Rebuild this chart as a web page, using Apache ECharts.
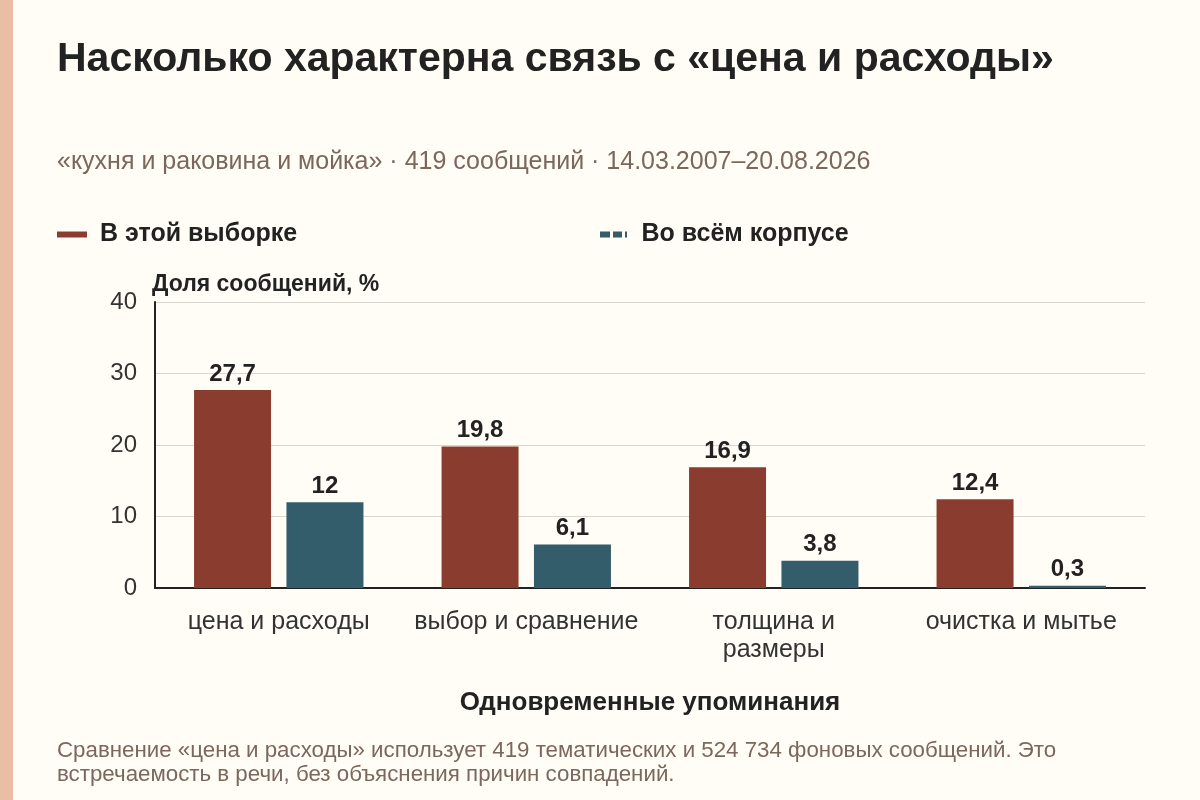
<!DOCTYPE html>
<html>
<head>
<meta charset="utf-8">
<script src="https://cdn.jsdelivr.net/npm/echarts@6/dist/echarts.min.js"></script>
<style>
  html, body { margin: 0; padding: 0; background: #fffdf6; }
  #main { width: 1200px; height: 800px; }
</style>
</head>
<body>
<div id="main"></div>
<script>
  // данные графика
  var categories = ['цена и расходы', 'выбор и сравнение', 'толщина и\nразмеры', 'очистка и мытье'];
  var sampleShare = [27.7, 19.8, 16.9, 12.4];
  var corpusShare = [12, 6.1, 3.8, 0.3];
  var yTicks = [0, 10, 20, 30, 40];

  var FONT = '"Liberation Sans", Arial, sans-serif';
  var RED = '#8a3d2f';
  var TEAL = '#335d6b';

  var myChart = echarts.init(document.getElementById('main'));

  function fmt(p) {
    return String(p.value).replace('.', ',');
  }

  var option = {
    backgroundColor: '#fffdf6',
    textStyle: { fontFamily: FONT },
    graphic: [
      { type: 'rect', left: 0, top: 0, shape: { width: 13, height: 800 }, style: { fill: '#e9bea4' } }
    ],
    title: [
      {
        text: 'Насколько характерна связь с «цена и расходы»',
        left: 52, top: 34,
        textStyle: { fontSize: 41, fontWeight: 'bold', color: '#222', fontFamily: FONT }
      },
      {
        text: '«кухня и раковина и мойка» · 419 сообщений · 14.03.2007–20.08.2026',
        left: 52, top: 145,
        textStyle: { fontSize: 25, fontWeight: 'normal', color: '#7b675c', fontFamily: FONT }
      },
      {
        text: 'Сравнение «цена и расходы» использует 419 тематических и 524 734 фоновых сообщений. Это\nвстречаемость в речи, без объяснения причин совпадений.',
        left: 52, top: 734,
        textStyle: { fontSize: 22.3, fontWeight: 'normal', color: '#7b675c', lineHeight: 24, fontFamily: FONT }
      }
    ],
    legend: [
      {
        data: [{ name: 'В этой выборке', icon: 'rect' }],
        left: 52, top: 217,
        itemWidth: 30, itemHeight: 6,
        textStyle: { fontSize: 25, fontWeight: 'bold', color: '#222', padding: [0, 0, 0, 8], fontFamily: FONT }
      },
      {
        data: [{ name: 'Во всём корпусе', icon: 'path://M0,0h10v6h-10z M13,0h9v6h-9z M25,0h2v6h-2z' }],
        left: 595, top: 217,
        itemWidth: 30, itemHeight: 6,
        textStyle: { fontSize: 25, fontWeight: 'bold', color: '#222', padding: [0, 0, 0, 8], fontFamily: FONT }
      }
    ],
    grid: { left: 155, right: 55, top: 302, bottom: 212, containLabel: false },
    xAxis: {
      type: 'category',
      data: categories,
      name: 'Одновременные упоминания',
      nameLocation: 'middle',
      nameGap: 102,
      nameTextStyle: { fontSize: 26, fontWeight: 'bold', color: '#222', fontFamily: FONT },
      axisLine: { lineStyle: { color: '#222', width: 2 } },
      axisTick: { alignWithLabel: true, length: 5, lineStyle: { color: '#222', width: 1 } },
      axisLabel: { interval: 0, hideOverlap: false, fontSize: 25, color: '#333', margin: 20, lineHeight: 28, fontFamily: FONT }
    },
    yAxis: {
      type: 'value',
      min: yTicks[0],
      max: yTicks[yTicks.length - 1],
      interval: 10,
      name: 'Доля сообщений, %',
      nameLocation: 'end',
      nameGap: 6,
      nameTextStyle: { fontSize: 23, fontWeight: 'bold', color: '#222', align: 'left', padding: [0, 0, 0, -3], fontFamily: FONT },
      axisLine: { show: true, lineStyle: { color: '#222', width: 2 } },
      axisTick: { show: false },
      axisLabel: { fontSize: 24, color: '#333', margin: 18, fontFamily: FONT },
      splitLine: { lineStyle: { color: '#d9d6cf', width: 1 } }
    },
    series: [
      {
        name: 'В этой выборке',
        type: 'bar',
        data: sampleShare,
        barWidth: 77,
        barGap: '20%',
        itemStyle: { color: RED },
        label: { show: true, position: 'top', distance: 4, formatter: fmt, fontSize: 24, fontWeight: 'bold', color: '#222', fontFamily: FONT }
      },
      {
        name: 'Во всём корпусе',
        type: 'bar',
        data: corpusShare,
        barWidth: 77,
        itemStyle: { color: TEAL },
        label: { show: true, position: 'top', distance: 4, formatter: fmt, fontSize: 24, fontWeight: 'bold', color: '#222', fontFamily: FONT }
      }
    ]
  };

  myChart.setOption(option);
</script>
</body>
</html>
